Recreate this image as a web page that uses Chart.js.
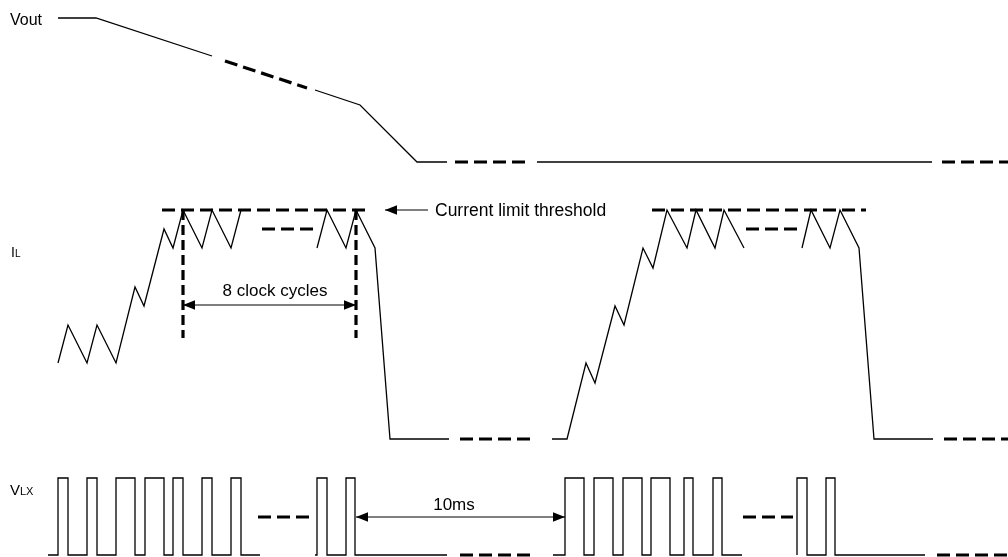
<!DOCTYPE html>
<html>
<head>
<meta charset="utf-8">
<title>Current limit timing</title>
<script src="https://cdn.jsdelivr.net/npm/chart.js@4.4.0/dist/chart.umd.min.js"></script>
<style>
  html, body { margin: 0; padding: 0; background: #fff; }
  #wrap { width: 1008px; height: 557px; }
</style>
</head>
<body>
<div id="wrap"><canvas id="diagram" width="1008" height="557"></canvas></div>
<script>
// waveforms: time along x, level down from the top
// seg = style of the piece that starts at each point: s solid, d dashed, g gap

// Vout
const voutTime  = [58, 96, 212, 225, 307, 315, 360, 417, 447, 455, 527, 537, 932, 942, 1008];
const voutLevel = [18, 18, 56, 61, 88, 90, 105, 162, 162, 162, 162, 162, 162, 162, 162];
const voutSeg   = ['s','s','g','d','g','s','s','s','g','d','g','s','g','d'];

// inductor current
const ilTime  = [58, 68, 87, 97, 116, 135, 144, 164, 173, 183, 202, 212, 231, 241, 260,
                 262, 313, 317, 327, 346, 356, 375, 390, 449, 460, 531, 552, 567,
                 586, 595, 615, 624, 643, 653, 667, 687, 696, 715, 724, 744,
                 746, 797, 802, 811, 830, 840, 859, 874, 933, 944, 1008];
const ilLevel = [363, 325, 363, 325, 363, 287, 306, 229, 248, 210, 248, 210, 248, 210, 248,
                 229, 229, 248, 210, 248, 210, 248, 439, 439, 439, 439, 439, 439,
                 363, 383, 306, 325, 248, 268, 210, 248, 210, 248, 210, 248,
                 229, 229, 248, 210, 248, 210, 248, 439, 439, 439, 439];
const ilSeg   = ['s','s','s','s','s','s','s','s','s','s','s','s','s','g',
                 'g','d','g','s','s','s','s','s','s','g','d','g','s','s',
                 's','s','s','s','s','s','s','s','s','s','s','g',
                 'd','g','s','s','s','s','s','s','g','d'];

// current limit threshold
const limitTime  = [162, 368, 652, 866];
const limitLevel = [210, 210, 210, 210];
const limitSeg   = ['d','g','d'];

// 8 clock cycle markers
const markTime  = [183, 183, 356, 356];
const markLevel = [210, 338, 210, 338];
const markSeg   = ['d','g','d'];

// switch node VLX
const vlxTime  = [48, 58, 58, 68, 68, 87, 87, 97, 97, 116, 116, 135, 135, 145, 145, 164, 164,
                  173, 173, 183, 183, 202, 202, 212, 212, 231, 231, 241, 241, 260,
                  258, 310, 315, 317, 317, 327, 327, 346, 346, 355, 355, 447,
                  460, 530, 553, 565, 565, 584, 584, 594, 594, 613, 613, 623, 623, 642, 642,
                  651, 651, 670, 670, 684, 684, 693, 693, 713, 713, 722, 722, 742,
                  743, 793, 797, 797, 807, 807, 826, 826, 835, 835, 925, 937, 1008];
const vlxLevel = [555, 555, 478, 478, 555, 555, 478, 478, 555, 555, 478, 478, 555, 555, 478, 478, 555,
                  555, 478, 478, 555, 555, 478, 478, 555, 555, 478, 478, 555, 555,
                  517, 517, 555, 555, 478, 478, 555, 555, 478, 478, 555, 555,
                  555, 555, 555, 555, 478, 478, 555, 555, 478, 478, 555, 555, 478, 478, 555,
                  555, 478, 478, 555, 555, 478, 478, 555, 555, 478, 478, 555, 555,
                  517, 517, 555, 478, 478, 555, 555, 478, 478, 555, 555, 555, 555];
const vlxSeg   = ['s','s','s','s','s','s','s','s','s','s','s','s','s','s','s','s',
                  's','s','s','s','s','s','s','s','s','s','s','s','s','g',
                  'd','g','s','s','s','s','s','s','s','s','s','g',
                  'd','g','s','s','s','s','s','s','s','s','s','s','s','s',
                  's','s','s','s','s','s','s','s','s','s','s','s','s','g',
                  'd','g','s','s','s','s','s','s','s','s','g','d'];

// dimension arrows (pairs of points)
const arrowTime  = [183, 356, 356, 565, 385, 428];
const arrowLevel = [305, 305, 517, 517, 210, 210];
const arrowSeg   = ['s','g','s','g','s'];

// arrow tips and their direction (0 right, 180 left)
const tipTime  = [183, 356, 356, 565, 385];
const tipLevel = [305, 305, 517, 517, 210];
const tipTurn  = [180, 0, 180, 0, 180];

const FONT = '"Liberation Sans", Arial, Helvetica, sans-serif';

// arrow head drawn with its tip at the middle of a small canvas
function arrowHead() {
  const c = document.createElement('canvas');
  c.width = 24; c.height = 10;
  const g = c.getContext('2d');
  g.fillStyle = '#000';
  g.beginPath();
  g.moveTo(12, 5);
  g.lineTo(0, 0.2);
  g.lineTo(0, 9.8);
  g.closePath();
  g.fill();
  return c;
}

function trace(name, t, v, seg, dash, thin) {
  const w = thin || 1.3;
  return {
    label: name,
    data: t.map((x, i) => ({ x: x, y: v[i] })),
    showLine: true,
    pointRadius: 0,
    pointHoverRadius: 0,
    borderColor: '#000',
    borderWidth: w,
    // a dash here keeps chart.js off its fast path, which merges vertical runs
    borderDash: dash.length ? dash : [],
    clip: false,
    segment: {
      borderColor: c => seg[c.p0DataIndex] === 'g' ? 'rgba(0,0,0,0)' : '#000',
      borderDash: c => seg[c.p0DataIndex] === 'd' ? dash : [],
      borderWidth: c => seg[c.p0DataIndex] === 'd' ? 3.2 : w
    }
  };
}

const arrows = trace('arrows', arrowTime, arrowLevel, arrowSeg, [], 1);
arrows.borderColor = '#222';

const tips = {
  label: 'tips',
  data: tipTime.map((x, i) => ({ x: x, y: tipLevel[i] })),
  showLine: false,
  pointStyle: arrowHead(),
  pointRotation: tipTurn,
  pointRadius: 6,
  clip: false
};

// text runs: [text, size] drawn one after another from the anchor
const labels = [
  { t: 10,  v: 25,  align: 'left',   runs: [['Vout', 16]] },
  { t: 11,  v: 257, align: 'left',   runs: [['I', 14], ['L', 10]] },
  { t: 10,  v: 495, align: 'left',   runs: [['V', 15], ['LX', 11]] },
  { t: 435, v: 216, align: 'left',   runs: [['Current limit threshold', 17.5]] },
  { t: 275, v: 296, align: 'center', runs: [['8 clock cycles', 17]] },
  { t: 454, v: 510, align: 'center', runs: [['10ms', 17]] }
];

const textPlugin = {
  id: 'diagramText',
  afterDatasetsDraw(chart) {
    const ctx = chart.ctx;
    const xs = chart.scales.x, ys = chart.scales.y;
    ctx.save();
    ctx.fillStyle = '#000';
    ctx.textBaseline = 'alphabetic';
    ctx.textAlign = 'left';
    labels.forEach(l => {
      let total = 0;
      l.runs.forEach(r => { ctx.font = r[1] + 'px ' + FONT; total += ctx.measureText(r[0]).width; });
      let px = xs.getPixelForValue(l.t);
      if (l.align === 'center') px -= total / 2;
      const py = ys.getPixelForValue(l.v);
      l.runs.forEach(r => {
        ctx.font = r[1] + 'px ' + FONT;
        ctx.fillText(r[0], px, py);
        px += ctx.measureText(r[0]).width;
      });
    });
    ctx.restore();
  }
};

new Chart(document.getElementById('diagram'), {
  type: 'scatter',
  data: {
    datasets: [
      trace('Vout', voutTime, voutLevel, voutSeg, [13, 6]),
      trace('IL', ilTime, ilLevel, ilSeg, [13, 6]),
      trace('limit', limitTime, limitLevel, limitSeg, [13, 6]),
      trace('marks', markTime, markLevel, markSeg, [10, 5]),
      trace('VLX', vlxTime, vlxLevel, vlxSeg, [13, 6]),
      arrows,
      tips
    ]
  },
  options: {
    responsive: false,
    animation: false,
    devicePixelRatio: 1,
    layout: { padding: 0, autoPadding: false },
    events: [],
    scales: {
      x: { type: 'linear', min: 0, max: 1008, display: false },
      y: { type: 'linear', min: 0, max: 557, reverse: true, display: false }
    },
    plugins: {
      legend: { display: false },
      tooltip: { enabled: false }
    }
  },
  plugins: [textPlugin]
});
</script>
</body>
</html>
